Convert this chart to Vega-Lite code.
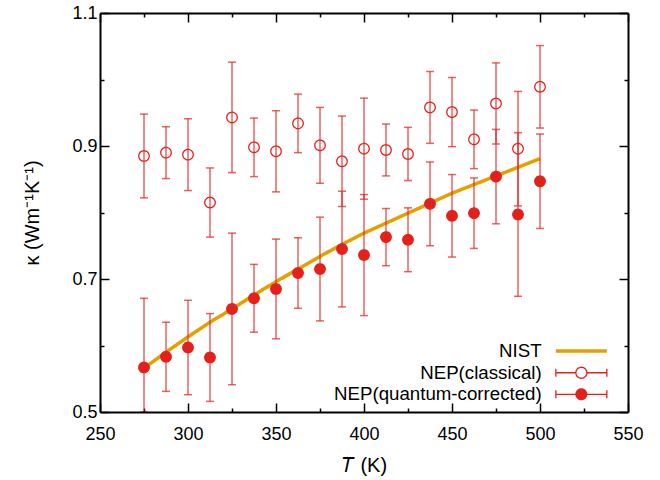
{
  "$schema": "https://vega.github.io/schema/vega-lite/v6.json",
  "width": 528,
  "height": 399,
  "autosize": {"type": "none"},
  "padding": {"left": 100, "top": 13, "right": 32, "bottom": 68},
  "background": "white",
  "datasets": {
    "nist": [
      {"T": 275, "k": 0.566}, {"T": 287.5, "k": 0.590}, {"T": 300, "k": 0.613},
      {"T": 312.5, "k": 0.635}, {"T": 325, "k": 0.655}, {"T": 337.5, "k": 0.676},
      {"T": 350, "k": 0.696}, {"T": 362.5, "k": 0.715}, {"T": 375, "k": 0.734},
      {"T": 387.5, "k": 0.752}, {"T": 400, "k": 0.769}, {"T": 412.5, "k": 0.784},
      {"T": 425, "k": 0.799}, {"T": 437.5, "k": 0.814}, {"T": 450, "k": 0.829},
      {"T": 462.5, "k": 0.842}, {"T": 475, "k": 0.855}, {"T": 487.5, "k": 0.868},
      {"T": 500, "k": 0.881}
    ],
    "nep": [
      {"T": 275, "k": 0.885, "err": 0.063, "series": "NEP(classical)"},
      {"T": 287.5, "k": 0.890, "err": 0.039, "series": "NEP(classical)"},
      {"T": 300, "k": 0.887, "err": 0.054, "series": "NEP(classical)"},
      {"T": 312.5, "k": 0.815, "err": 0.052, "series": "NEP(classical)"},
      {"T": 325, "k": 0.943, "err": 0.083, "series": "NEP(classical)"},
      {"T": 337.5, "k": 0.898, "err": 0.044, "series": "NEP(classical)"},
      {"T": 350, "k": 0.892, "err": 0.061, "series": "NEP(classical)"},
      {"T": 362.5, "k": 0.934, "err": 0.044, "series": "NEP(classical)"},
      {"T": 375, "k": 0.901, "err": 0.057, "series": "NEP(classical)"},
      {"T": 387.5, "k": 0.877, "err": 0.068, "series": "NEP(classical)"},
      {"T": 400, "k": 0.896, "err": 0.076, "series": "NEP(classical)"},
      {"T": 412.5, "k": 0.894, "err": 0.039, "series": "NEP(classical)"},
      {"T": 425, "k": 0.888, "err": 0.040, "series": "NEP(classical)"},
      {"T": 437.5, "k": 0.958, "err": 0.054, "series": "NEP(classical)"},
      {"T": 450, "k": 0.951, "err": 0.052, "series": "NEP(classical)"},
      {"T": 462.5, "k": 0.910, "err": 0.044, "series": "NEP(classical)"},
      {"T": 475, "k": 0.964, "err": 0.061, "series": "NEP(classical)"},
      {"T": 487.5, "k": 0.896, "err": 0.086, "series": "NEP(classical)"},
      {"T": 500, "k": 0.989, "err": 0.062, "series": "NEP(classical)"},
      {"T": 275, "k": 0.567, "err": 0.104, "series": "NEP(quantum-corrected)"},
      {"T": 287.5, "k": 0.583, "err": 0.052, "series": "NEP(quantum-corrected)"},
      {"T": 300, "k": 0.597, "err": 0.071, "series": "NEP(quantum-corrected)"},
      {"T": 312.5, "k": 0.582, "err": 0.066, "series": "NEP(quantum-corrected)"},
      {"T": 325, "k": 0.655, "err": 0.114, "series": "NEP(quantum-corrected)"},
      {"T": 337.5, "k": 0.671, "err": 0.051, "series": "NEP(quantum-corrected)"},
      {"T": 350, "k": 0.685, "err": 0.075, "series": "NEP(quantum-corrected)"},
      {"T": 362.5, "k": 0.709, "err": 0.053, "series": "NEP(quantum-corrected)"},
      {"T": 375, "k": 0.715, "err": 0.078, "series": "NEP(quantum-corrected)"},
      {"T": 387.5, "k": 0.745, "err": 0.087, "series": "NEP(quantum-corrected)"},
      {"T": 400, "k": 0.736, "err": 0.091, "series": "NEP(quantum-corrected)"},
      {"T": 412.5, "k": 0.763, "err": 0.043, "series": "NEP(quantum-corrected)"},
      {"T": 425, "k": 0.759, "err": 0.048, "series": "NEP(quantum-corrected)"},
      {"T": 437.5, "k": 0.813, "err": 0.063, "series": "NEP(quantum-corrected)"},
      {"T": 450, "k": 0.795, "err": 0.062, "series": "NEP(quantum-corrected)"},
      {"T": 462.5, "k": 0.799, "err": 0.053, "series": "NEP(quantum-corrected)"},
      {"T": 475, "k": 0.854, "err": 0.071, "series": "NEP(quantum-corrected)"},
      {"T": 487.5, "k": 0.797, "err": 0.123, "series": "NEP(quantum-corrected)"},
      {"T": 500, "k": 0.847, "err": 0.071, "series": "NEP(quantum-corrected)"}
    ]
  },
  "resolve": {
    "axis": {"x": "independent", "y": "independent"},
    "scale": {"strokeDash": "independent"},
    "legend": {"strokeDash": "independent"}
  },
  "layer": [
    {
      "data": {"name": "nist"},
      "mark": {"type": "line", "color": "#e69f00", "strokeWidth": 3.5},
      "encoding": {
        "x": {"field": "T", "type": "quantitative",
          "scale": {"domain": [250, 550], "nice": false, "zero": false},
          "axis": {"orient": "bottom", "values": [250, 300, 350, 400, 450, 500, 550], "tickSize": -9, "labelPadding": 22, "title": "𝑇 (K)", "titlePadding": 12, "zindex": 1, "labelFlush": false}},
        "y": {"field": "k", "type": "quantitative",
          "scale": {"domain": [0.5, 1.1], "nice": false, "zero": false, "clamp": true},
          "axis": {"orient": "left", "values": [0.5, 0.7, 0.9, 1.1], "format": ".1f", "tickSize": -9, "labelPadding": 12, "title": "κ (Wm⁻¹K⁻¹)", "titlePadding": 29, "zindex": 1, "labelFlush": false}},
        "strokeDash": {"datum": "NIST", "type": "nominal",
          "scale": {"domain": ["NIST"], "range": [[1, 0]]},
          "legend": {
            "title": null, "orient": "none", "legendX": 472, "legendY": 328.6,
            "padding": 0,
            "symbolType": "M-5.1,0H5.1", "symbolSize": 100, "symbolStrokeWidth": 3.5,
            "symbolStrokeColor": "#e69f00", "symbolFillColor": "#e69f00", "symbolOpacity": 1,
            "labelAlign": "right", "labelOffset": -49, "labelLimit": 400,
            "labelFont": "Liberation Sans", "labelFontSize": 18.7, "labelColor": "black"
          }}
      }
    },
    {
      "data": {"name": "nep"},
      "transform": [{"filter": "datum.series === 'NEP(classical)'"}],
      "mark": {"type": "errorbar", "ticks": {"size": 8, "thickness": 1.5}, "rule": {"strokeWidth": 1.5}, "color": "#e3211c", "opacity": 0.7},
      "encoding": {
        "x": {"field": "T", "type": "quantitative",
          "axis": {"orient": "top", "values": [275, 325, 375, 425, 475, 525], "tickSize": -4, "labels": false, "domain": false, "title": null}},
        "y": {"field": "k", "type": "quantitative",
          "scale": {"domain": [0.5, 1.1], "nice": false, "zero": false, "clamp": true},
          "axis": {"orient": "right", "values": [0.6, 0.8, 1.0], "tickSize": -4, "labels": false, "domain": false, "title": null}},
        "yError": {"field": "err"}
      }
    },
    {
      "data": {"name": "nep"},
      "transform": [{"filter": "datum.series === 'NEP(quantum-corrected)'"}],
      "mark": {"type": "errorbar", "ticks": {"size": 8, "thickness": 1.5}, "rule": {"strokeWidth": 1.5}, "color": "#e3211c", "opacity": 0.7},
      "encoding": {
        "x": {"field": "T", "type": "quantitative",
          "axis": {"orient": "bottom", "values": [275, 325, 375, 425, 475, 525], "tickSize": -4, "labels": false, "domain": false, "title": null}},
        "y": {"field": "k", "type": "quantitative",
          "scale": {"domain": [0.5, 1.1], "nice": false, "zero": false, "clamp": true},
          "axis": {"orient": "left", "values": [0.6, 0.8, 1.0], "tickSize": -4, "labels": false, "domain": false, "title": null}},
        "yError": {"field": "err"}
      }
    },
    {
      "data": {"name": "nep"},
      "transform": [{"filter": "datum.series === 'NEP(classical)'"}],
      "mark": {"type": "point", "shape": "circle", "filled": false, "size": 110, "strokeWidth": 1.3, "opacity": 1, "color": "#e3211c"},
      "encoding": {
        "x": {"field": "T", "type": "quantitative",
          "axis": {"orient": "top", "values": [250, 300, 350, 400, 450, 500, 550], "tickSize": -9, "labels": false, "title": null, "zindex": 1}},
        "y": {"field": "k", "type": "quantitative",
          "scale": {"domain": [0.5, 1.1], "nice": false, "zero": false, "clamp": true},
          "axis": {"orient": "right", "values": [0.5, 0.7, 0.9, 1.1], "tickSize": -9, "labels": false, "title": null, "zindex": 1}},
        "strokeDash": {"datum": "NEP(classical)", "type": "nominal",
          "scale": {"domain": ["NEP(classical)"], "range": [[1, 0]]},
          "legend": {
            "title": null, "orient": "none", "legendX": 472, "legendY": 350.4,
            "padding": 0,
            "symbolType": "M-5.1,0H-1.1M1.1,0H5.1M-5.1,-0.8V0.8M5.1,-0.8V0.8M1.1,0A1.1,1.1 0 1,1 -1.1,0A1.1,1.1 0 1,1 1.1,0Z",
            "symbolSize": 100, "symbolStrokeWidth": 1.3,
            "symbolStrokeColor": "#e3211c", "symbolFillColor": "#ffffff", "symbolOpacity": 1,
            "labelAlign": "right", "labelOffset": -49, "labelLimit": 400,
            "labelFont": "Liberation Sans", "labelFontSize": 18.7, "labelColor": "black"
          }}
      }
    },
    {
      "data": {"name": "nep"},
      "transform": [{"filter": "datum.series === 'NEP(quantum-corrected)'"}],
      "mark": {"type": "point", "shape": "circle", "filled": false, "size": 110, "opacity": 1, "color": "#e3211c", "fill": "#e3211c", "stroke": "#e3211c", "strokeWidth": 1.3},
      "encoding": {
        "x": {"field": "T", "type": "quantitative", "axis": null},
        "y": {"field": "k", "type": "quantitative",
          "scale": {"domain": [0.5, 1.1], "nice": false, "zero": false, "clamp": true}, "axis": null},
        "strokeDash": {"datum": "NEP(quantum-corrected)", "type": "nominal",
          "scale": {"domain": ["NEP(quantum-corrected)"], "range": [[1, 0]]},
          "legend": {
            "title": null, "orient": "none", "legendX": 472, "legendY": 372,
            "padding": 0,
            "symbolType": "M-5.1,-0.13H-1.15V0.13H-5.1ZM1.15,-0.13H5.1V0.13H1.15ZM-5.23,-0.8H-4.97V0.8H-5.23ZM4.97,-0.8H5.23V0.8H4.97ZM1.2,0A1.2,1.2 0 1,1 -1.2,0A1.2,1.2 0 1,1 1.2,0Z",
            "symbolSize": 100, "symbolStrokeWidth": 1.3,
            "symbolStrokeColor": "#e3211c", "symbolFillColor": "#e3211c", "symbolOpacity": 1,
            "labelAlign": "right", "labelOffset": -49, "labelLimit": 400,
            "labelFont": "Liberation Sans", "labelFontSize": 18.7, "labelColor": "black"
          }}
      }
    }
  ],
  "config": {
    "view": {"stroke": null},
    "axis": {
      "grid": false,
      "labelFont": "Liberation Sans", "labelFontSize": 18, "labelColor": "black",
      "titleFont": "Liberation Sans", "titleFontSize": 20, "titleFontWeight": "normal", "titleColor": "black",
      "tickColor": "black", "tickWidth": 1.5,
      "domainColor": "black", "domainWidth": 2
    }
  }
}
